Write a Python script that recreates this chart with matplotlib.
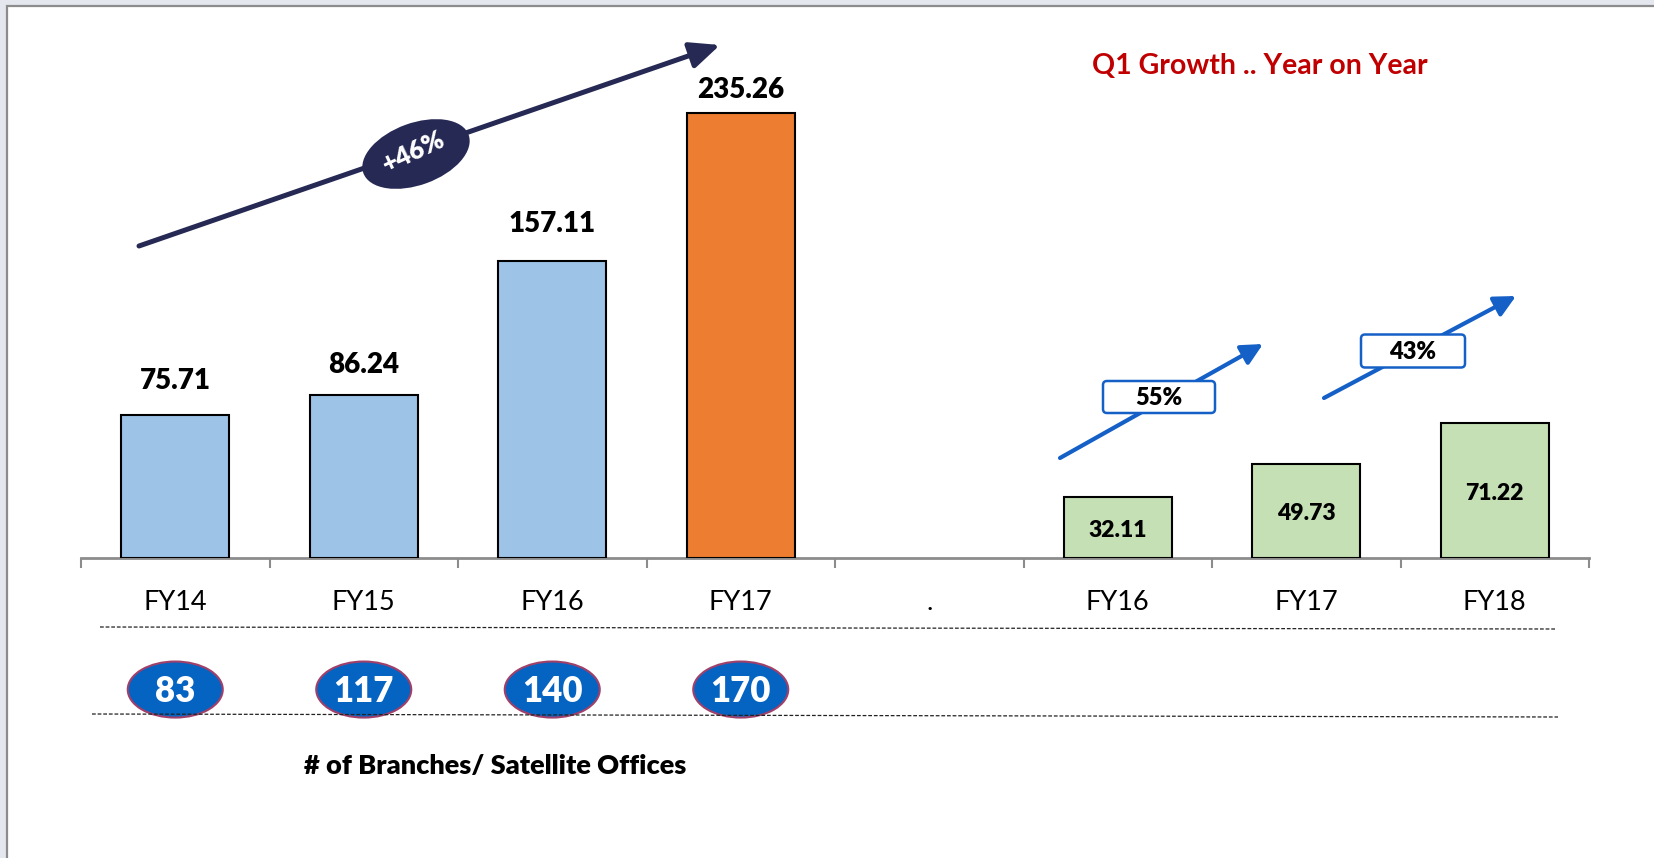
import matplotlib
matplotlib.use('Agg')
import matplotlib.pyplot as plt
from matplotlib.patches import Ellipse, FancyBboxPatch, FancyArrowPatch, Rectangle
from matplotlib.lines import Line2D

plt.rcParams['font.family'] = ['Lato', 'DejaVu Sans']

# chart data
categories = ['FY14', 'FY15', 'FY16', 'FY17', '.', 'FY16', 'FY17', 'FY18']
annual_values = [75.71, 86.24, 157.11, 235.26]
q1_values = [32.11, 49.73, 71.22]
branches = [83, 117, 140, 170]
annual_growth = '+46%'
q1_growth = ['55%', '43%']

annual_pos = [0, 1, 2, 3]
q1_pos = [5, 6, 7]

blue = '#9DC3E6'
orange = '#ED7D31'
green = '#C5E0B4'
navy = '#262953'
arrow_blue = '#1560C7'

W, H = 1654, 858
fig = plt.figure(figsize=(W / 100, H / 100), dpi=100)
fig.patch.set_facecolor('#E4E8EE')
inch = fig.dpi_scale_trans


def P(x, y):
    # pixel position (from top-left) -> inches from bottom-left
    return (x / 100, (H - y) / 100)


# white slide area with grey border on top / left
fig.add_artist(Rectangle((0.07, -0.5), 20, (H - 6) / 100 + 0.5, transform=inch,
                         facecolor='white', edgecolor='#8C8C8C', lw=1.6, zorder=-10))

ax = fig.add_axes([81 / W, 1 - 558 / H, (1589 - 81) / W, 494 / H])
ax.patch.set_visible(False)
ax.set_xlim(-0.5, 7.5)
ax.set_ylim(0, 261)

ax.bar(annual_pos, annual_values, width=0.575, color=[blue, blue, blue, orange],
       edgecolor='black', linewidth=1.5, zorder=3)
ax.bar(q1_pos, q1_values, width=0.575, color=green, edgecolor='black', linewidth=1.5, zorder=3)

# labels above the annual bars (gap in pixels)
label_gap_px = [26, 22, 29, 15]
for x, v, g in zip(annual_pos, annual_values, label_gap_px):
    ax.text(x, v + g / 1.893, f'{v:.2f}', ha='center', va='baseline',
            fontsize=20, fontweight='heavy', color='black')

for x, v in zip(q1_pos, q1_values):
    ax.text(x, v / 2 - 1.5, f'{v:.2f}', ha='center', va='center',
            fontsize=16.5, fontweight='heavy', color='black', zorder=4)

for s in ['top', 'right', 'left']:
    ax.spines[s].set_visible(False)
ax.spines['bottom'].set_color('#8C8C8C')
ax.spines['bottom'].set_linewidth(2)
ax.set_yticks([])
ax.set_xticks(range(len(categories)))
ax.set_xticklabels(categories, fontsize=19.5)
ax.set_xticks([i - 0.5 for i in range(len(categories) + 1)], minor=True)
ax.tick_params(axis='x', which='major', length=0, pad=23)
ax.tick_params(axis='x', which='minor', length=7, width=1.5, color='#8C8C8C', direction='out')

# branch counts in ellipses
for x, n in zip(annual_pos, branches):
    ax.add_patch(Ellipse((x, -69.5), 0.504, 29.6, facecolor='#0563C1', edgecolor='#A0406A',
                         lw=1.5, clip_on=False, zorder=5))
    ax.text(x, -70.5, str(n), ha='center', va='center', fontsize=25, fontweight='heavy',
            color='white', clip_on=False, zorder=6)

# dashed separator lines
fig.add_artist(Line2D([100 / 100, 1556 / 100], [(H - 627) / 100, (H - 629) / 100], transform=inch,
                      color='#222222', lw=0.9, linestyle=(0, (3, 1.5))))
fig.add_artist(Line2D([92 / 100, 1558 / 100], [(H - 714) / 100, (H - 717) / 100], transform=inch,
                      color='#222222', lw=0.9, linestyle=(0, (3, 1.5)), zorder=1))

fig.text(*P(495, 766), '# of Branches/ Satellite Offices', transform=inch, ha='center', va='center',
         fontsize=19.5, fontweight='heavy', color='black')

# title
fig.text(*P(1260, 66), 'Q1 Growth .. Year on Year', transform=inch, ha='center', va='center',
         fontsize=20.5, fontweight='bold', color='#C00000')

# big growth arrow
fig.add_artist(FancyArrowPatch(P(139, 246), P(720, 45), transform=inch,
                               arrowstyle='-|>,head_length=0.9,head_width=0.4', mutation_scale=20,
                               color=navy, lw=3.6, shrinkA=0, shrinkB=0, zorder=5))
fig.add_artist(Ellipse(P(416, 154), 1.12, 0.62, angle=20, transform=inch,
                       facecolor=navy, edgecolor='none', zorder=6))
fig.text(*P(414, 152), annual_growth, transform=inch, ha='center', va='center', rotation=25,
         fontsize=18.5, fontweight='heavy', color='white', zorder=7)

# small Q1 growth arrows
q1_arrows = [(P(1060, 458), P(1263, 344)), (P(1324, 398), P(1516, 296))]
q1_boxes = [(1159, 397, 112, 32), (1413, 351, 104, 33)]
for (a, b), (cx, cy, bw, bh), lab in zip(q1_arrows, q1_boxes, q1_growth):
    fig.add_artist(FancyArrowPatch(a, b, transform=inch,
                                   arrowstyle='-|>,head_length=0.8,head_width=0.4', mutation_scale=16,
                                   color=arrow_blue, lw=3, shrinkA=0, shrinkB=0, zorder=5))
    x0, y0 = P(cx - bw / 2, cy + bh / 2)
    fig.add_artist(FancyBboxPatch((x0 + 0.04, y0 + 0.04), bw / 100 - 0.08, bh / 100 - 0.08,
                                  boxstyle='round,pad=0.04', transform=inch,
                                  facecolor='white', edgecolor=arrow_blue, lw=1.8, zorder=6))
    fig.text(*P(cx, cy + 1), lab, transform=inch, ha='center', va='center',
             fontsize=17, fontweight='heavy', color='black', zorder=7)

fig.savefig('out.png', dpi=100, facecolor=fig.get_facecolor())
